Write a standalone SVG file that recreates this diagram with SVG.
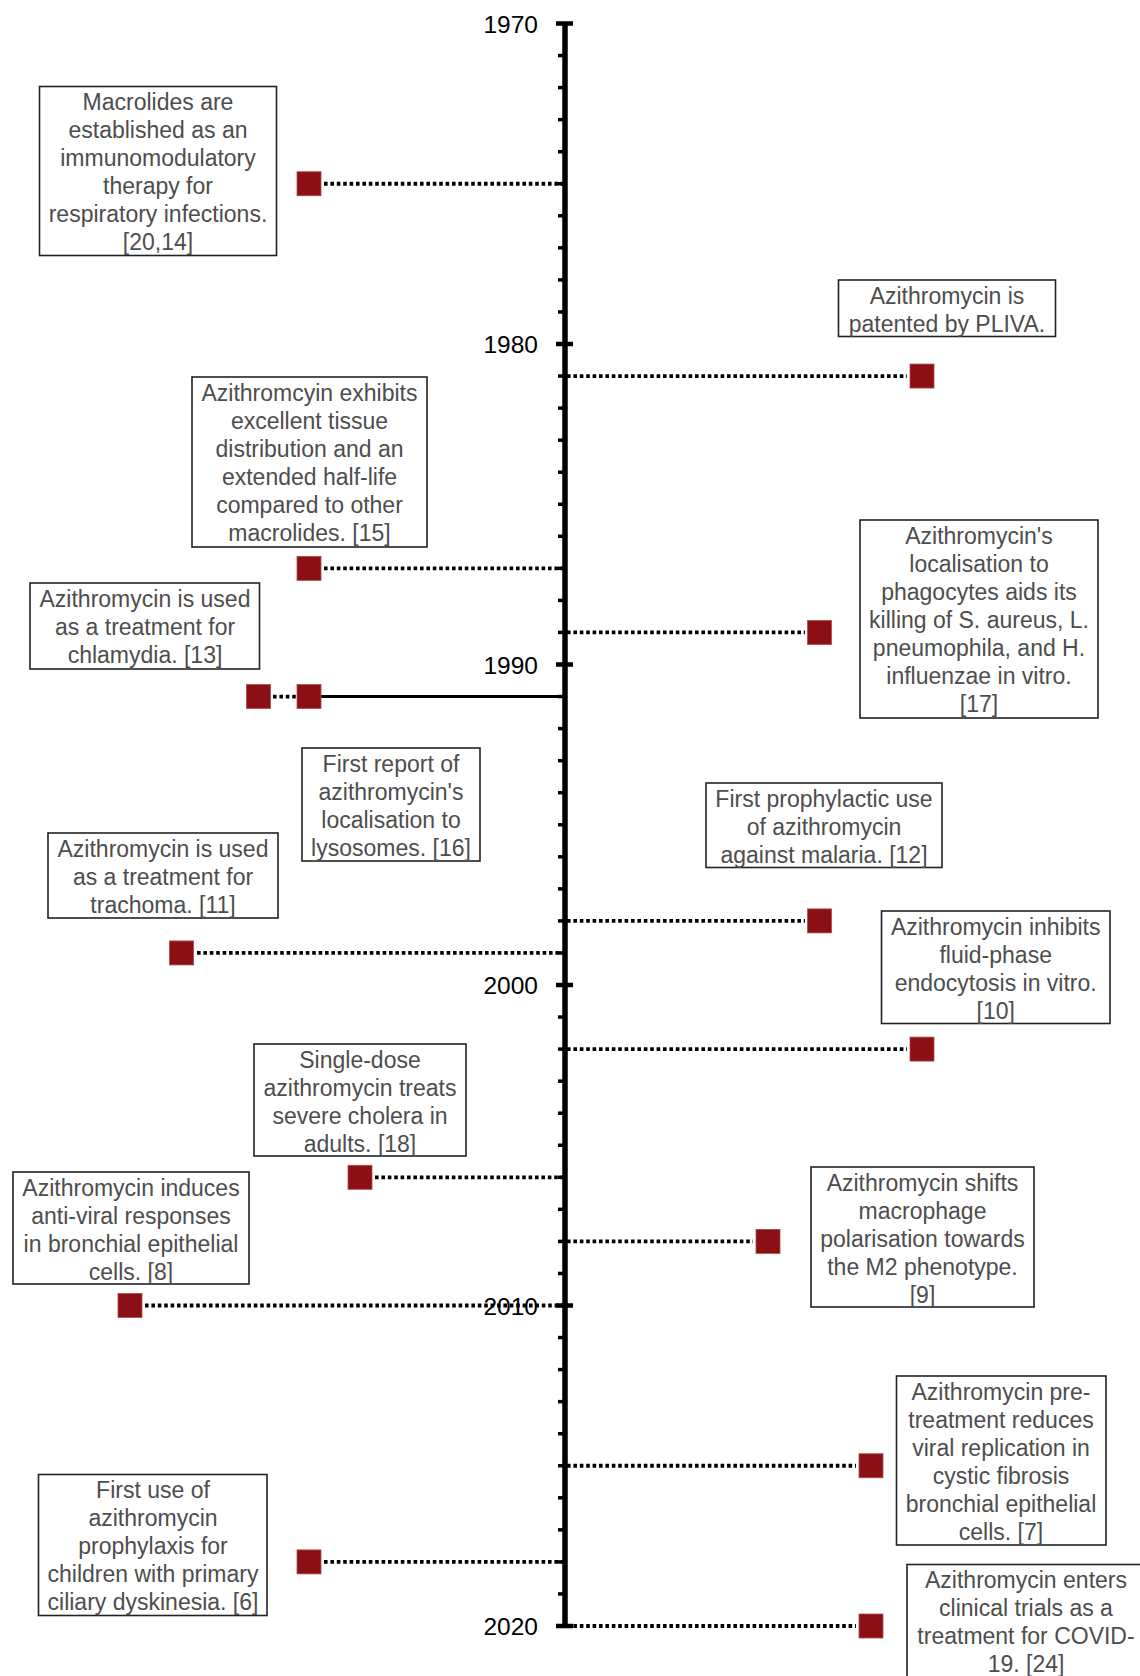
<svg xmlns="http://www.w3.org/2000/svg" width="1140" height="1676" viewBox="0 0 1140 1676">
<style>
.box{fill:#fff;stroke:#222;stroke-width:1.6}
.t{font-family:"Liberation Sans",Arial,Helvetica,sans-serif;font-size:23px;fill:#4d4d4d;text-anchor:middle}
.yr{font-family:"Liberation Sans",Arial,Helvetica,sans-serif;font-size:24.5px;fill:#000;text-anchor:end}
.dot{stroke:#000;stroke-width:3.8;stroke-dasharray:3.6 2.8;fill:none}
.solid{stroke:#000;stroke-width:3;fill:none}
.mk{fill:#8b1015;stroke:#b24a4a;stroke-width:0.8}
.minor{stroke:#000;stroke-width:3.5}
.major{stroke:#000;stroke-width:4.5}
</style>
<rect width="1140" height="1676" fill="#fff"/>
<g id="axis">
<line x1="565" y1="23.5" x2="565" y2="1626" stroke="#000" stroke-width="5.5"/>
<g id="minor-ticks">
<line class="minor" x1="558" y1="55.55" x2="565" y2="55.55"/><line class="minor" x1="558" y1="87.6" x2="565" y2="87.6"/><line class="minor" x1="558" y1="119.65" x2="565" y2="119.65"/><line class="minor" x1="558" y1="151.7" x2="565" y2="151.7"/><line class="minor" x1="558" y1="183.75" x2="565" y2="183.75"/><line class="minor" x1="558" y1="215.8" x2="565" y2="215.8"/><line class="minor" x1="558" y1="247.85" x2="565" y2="247.85"/><line class="minor" x1="558" y1="279.9" x2="565" y2="279.9"/><line class="minor" x1="558" y1="311.95" x2="565" y2="311.95"/>
<line class="minor" x1="558" y1="376.05" x2="565" y2="376.05"/><line class="minor" x1="558" y1="408.1" x2="565" y2="408.1"/><line class="minor" x1="558" y1="440.15" x2="565" y2="440.15"/><line class="minor" x1="558" y1="472.2" x2="565" y2="472.2"/><line class="minor" x1="558" y1="504.25" x2="565" y2="504.25"/><line class="minor" x1="558" y1="536.3" x2="565" y2="536.3"/><line class="minor" x1="558" y1="568.35" x2="565" y2="568.35"/><line class="minor" x1="558" y1="600.4" x2="565" y2="600.4"/><line class="minor" x1="558" y1="632.45" x2="565" y2="632.45"/>
<line class="minor" x1="558" y1="696.55" x2="565" y2="696.55"/><line class="minor" x1="558" y1="728.6" x2="565" y2="728.6"/><line class="minor" x1="558" y1="760.65" x2="565" y2="760.65"/><line class="minor" x1="558" y1="792.7" x2="565" y2="792.7"/><line class="minor" x1="558" y1="824.75" x2="565" y2="824.75"/><line class="minor" x1="558" y1="856.8" x2="565" y2="856.8"/><line class="minor" x1="558" y1="888.85" x2="565" y2="888.85"/><line class="minor" x1="558" y1="920.9" x2="565" y2="920.9"/><line class="minor" x1="558" y1="952.95" x2="565" y2="952.95"/>
<line class="minor" x1="558" y1="1017.05" x2="565" y2="1017.05"/><line class="minor" x1="558" y1="1049.1" x2="565" y2="1049.1"/><line class="minor" x1="558" y1="1081.15" x2="565" y2="1081.15"/><line class="minor" x1="558" y1="1113.2" x2="565" y2="1113.2"/><line class="minor" x1="558" y1="1145.25" x2="565" y2="1145.25"/><line class="minor" x1="558" y1="1177.3" x2="565" y2="1177.3"/><line class="minor" x1="558" y1="1209.35" x2="565" y2="1209.35"/><line class="minor" x1="558" y1="1241.4" x2="565" y2="1241.4"/><line class="minor" x1="558" y1="1273.45" x2="565" y2="1273.45"/>
<line class="minor" x1="558" y1="1337.55" x2="565" y2="1337.55"/><line class="minor" x1="558" y1="1369.6" x2="565" y2="1369.6"/><line class="minor" x1="558" y1="1401.65" x2="565" y2="1401.65"/><line class="minor" x1="558" y1="1433.7" x2="565" y2="1433.7"/><line class="minor" x1="558" y1="1465.75" x2="565" y2="1465.75"/><line class="minor" x1="558" y1="1497.8" x2="565" y2="1497.8"/><line class="minor" x1="558" y1="1529.85" x2="565" y2="1529.85"/><line class="minor" x1="558" y1="1561.9" x2="565" y2="1561.9"/><line class="minor" x1="558" y1="1593.95" x2="565" y2="1593.95"/>
</g>
<g id="major-ticks">
<line class="major" x1="556" y1="23.5" x2="573" y2="23.5"/>
<line class="major" x1="556" y1="344" x2="573" y2="344"/>
<line class="major" x1="556" y1="664.5" x2="573" y2="664.5"/>
<line class="major" x1="556" y1="985" x2="573" y2="985"/>
<line class="major" x1="556" y1="1305.5" x2="573" y2="1305.5"/>
<line class="major" x1="556" y1="1626" x2="573" y2="1626"/>
</g>
</g>
<g id="connectors">
<line class="dot" x1="324" y1="183.75" x2="563" y2="183.75"/>
<line class="dot" x1="567" y1="376.05" x2="907" y2="376.05"/>
<line class="dot" x1="324" y1="568.35" x2="563" y2="568.35"/>
<line class="dot" x1="567" y1="632.45" x2="805" y2="632.45"/>
<line class="solid" x1="321" y1="696.55" x2="563" y2="696.55"/>
<line class="dot" x1="273" y1="696.55" x2="296" y2="696.55"/>
<line class="dot" x1="567" y1="920.9" x2="805" y2="920.9"/>
<line class="dot" x1="197" y1="952.95" x2="563" y2="952.95"/>
<line class="dot" x1="567" y1="1049.1" x2="907" y2="1049.1"/>
<line class="dot" x1="375" y1="1177.3" x2="563" y2="1177.3"/>
<line class="dot" x1="567" y1="1241.4" x2="753" y2="1241.4"/>
<line class="dot" x1="145" y1="1305.5" x2="563" y2="1305.5"/>
<line class="dot" x1="567" y1="1465.75" x2="856" y2="1465.75"/>
<line class="dot" x1="324" y1="1561.9" x2="563" y2="1561.9"/>
<line class="dot" x1="567" y1="1626" x2="856" y2="1626"/>
</g>
<g id="year-labels">
<text class="yr" x="538" y="32.5">1970</text>
<text class="yr" x="538" y="353">1980</text>
<text class="yr" x="538" y="673.5">1990</text>
<text class="yr" x="538" y="994">2000</text>
<text class="yr" x="538" y="1314.5">2010</text>
<text class="yr" x="538" y="1635">2020</text>
</g>
<g id="markers">
<rect class="mk" x="297" y="171.75" width="24" height="24"/>
<rect class="mk" x="910" y="364.05" width="24" height="24"/>
<rect class="mk" x="297" y="556.35" width="24" height="24"/>
<rect class="mk" x="807.5" y="620.45" width="24" height="24"/>
<rect class="mk" x="246.5" y="684.55" width="24" height="24"/>
<rect class="mk" x="297" y="684.55" width="24" height="24"/>
<rect class="mk" x="807.5" y="908.9" width="24" height="24"/>
<rect class="mk" x="169.6" y="940.95" width="24" height="24"/>
<rect class="mk" x="910" y="1037.1" width="24" height="24"/>
<rect class="mk" x="348" y="1165.3" width="24" height="24"/>
<rect class="mk" x="756" y="1229.4" width="24" height="24"/>
<rect class="mk" x="118" y="1293.5" width="24" height="24"/>
<rect class="mk" x="859" y="1453.75" width="24" height="24"/>
<rect class="mk" x="297" y="1549.9" width="24" height="24"/>
<rect class="mk" x="859" y="1614" width="24" height="24"/>
</g>
<g id="e1975">
<rect class="box" x="39.5" y="86.5" width="237" height="169"/>
<text class="t" x="158" y="110"><tspan x="158">Macrolides are</tspan><tspan x="158" dy="28">established as an</tspan><tspan x="158" dy="28">immunomodulatory</tspan><tspan x="158" dy="28">therapy for</tspan><tspan x="158" dy="28">respiratory infections.</tspan><tspan x="158" dy="28">[20,14]</tspan></text>
</g>
<g id="e1981">
<rect class="box" x="838.5" y="280" width="217" height="56.5"/>
<text class="t" x="947" y="303.5"><tspan x="947">Azithromycin is</tspan><tspan x="947" dy="28">patented by PLIVA.</tspan></text>
</g>
<g id="e1987">
<rect class="box" x="192" y="377" width="235" height="170"/>
<text class="t" x="309.5" y="400.5"><tspan x="309.5">Azithromcyin exhibits</tspan><tspan x="309.5" dy="28">excellent tissue</tspan><tspan x="309.5" dy="28">distribution and an</tspan><tspan x="309.5" dy="28">extended half-life</tspan><tspan x="309.5" dy="28">compared to other</tspan><tspan x="309.5" dy="28">macrolides. [15]</tspan></text>
</g>
<g id="e1989">
<rect class="box" x="860" y="520" width="238" height="198"/>
<text class="t" x="979" y="543.5"><tspan x="979">Azithromycin's</tspan><tspan x="979" dy="28">localisation to</tspan><tspan x="979" dy="28">phagocytes aids its</tspan><tspan x="979" dy="28">killing of S. aureus, L.</tspan><tspan x="979" dy="28">pneumophila, and H.</tspan><tspan x="979" dy="28">influenzae in vitro.</tspan><tspan x="979" dy="28">[17]</tspan></text>
</g>
<g id="e1991-chlamydia">
<rect class="box" x="30" y="583" width="229.5" height="86"/>
<text class="t" x="145" y="606.5"><tspan x="145">Azithromycin is used</tspan><tspan x="145" dy="28">as a treatment for</tspan><tspan x="145" dy="28">chlamydia. [13]</tspan></text>
</g>
<g id="e-lysosomes">
<rect class="box" x="302" y="748" width="178" height="113"/>
<text class="t" x="391" y="771.5"><tspan x="391">First report of</tspan><tspan x="391" dy="28">azithromycin's</tspan><tspan x="391" dy="28">localisation to</tspan><tspan x="391" dy="28">lysosomes. [16]</tspan></text>
</g>
<g id="e1998">
<rect class="box" x="706" y="783" width="236" height="84.5"/>
<text class="t" x="824" y="806.5"><tspan x="824">First prophylactic use</tspan><tspan x="824" dy="28">of azithromycin</tspan><tspan x="824" dy="28">against malaria. [12]</tspan></text>
</g>
<g id="e1999">
<rect class="box" x="48" y="833" width="230" height="85"/>
<text class="t" x="163" y="856.5"><tspan x="163">Azithromycin is used</tspan><tspan x="163" dy="28">as a treatment for</tspan><tspan x="163" dy="28">trachoma. [11]</tspan></text>
</g>
<g id="e2002">
<rect class="box" x="881.5" y="911" width="228.5" height="112.5"/>
<text class="t" x="995.7" y="934.5"><tspan x="995.7">Azithromycin inhibits</tspan><tspan x="995.7" dy="28">fluid-phase</tspan><tspan x="995.7" dy="28">endocytosis in vitro.</tspan><tspan x="995.7" dy="28">[10]</tspan></text>
</g>
<g id="e2006">
<rect class="box" x="254" y="1044" width="212" height="112"/>
<text class="t" x="360" y="1067.5"><tspan x="360">Single-dose</tspan><tspan x="360" dy="28">azithromycin treats</tspan><tspan x="360" dy="28">severe cholera in</tspan><tspan x="360" dy="28">adults. [18]</tspan></text>
</g>
<g id="e2008">
<rect class="box" x="811" y="1167" width="223" height="140"/>
<text class="t" x="922.5" y="1190.5"><tspan x="922.5">Azithromycin shifts</tspan><tspan x="922.5" dy="28">macrophage</tspan><tspan x="922.5" dy="28">polarisation towards</tspan><tspan x="922.5" dy="28">the M2 phenotype.</tspan><tspan x="922.5" dy="28">[9]</tspan></text>
</g>
<g id="e2010">
<rect class="box" x="13" y="1172" width="236" height="112"/>
<text class="t" x="131" y="1195.5"><tspan x="131">Azithromycin induces</tspan><tspan x="131" dy="28">anti-viral responses</tspan><tspan x="131" dy="28">in bronchial epithelial</tspan><tspan x="131" dy="28">cells. [8]</tspan></text>
</g>
<g id="e2015">
<rect class="box" x="896.5" y="1376" width="209.5" height="169"/>
<text class="t" x="1001" y="1399.5"><tspan x="1001">Azithromycin pre-</tspan><tspan x="1001" dy="28">treatment reduces</tspan><tspan x="1001" dy="28">viral replication in</tspan><tspan x="1001" dy="28">cystic fibrosis</tspan><tspan x="1001" dy="28">bronchial epithelial</tspan><tspan x="1001" dy="28">cells. [7]</tspan></text>
</g>
<g id="e2018">
<rect class="box" x="38.5" y="1474.5" width="228.5" height="141"/>
<text class="t" x="153" y="1498"><tspan x="153">First use of</tspan><tspan x="153" dy="28">azithromycin</tspan><tspan x="153" dy="28">prophylaxis for</tspan><tspan x="153" dy="28">children with primary</tspan><tspan x="153" dy="28">ciliary dyskinesia. [6]</tspan></text>
</g>
<g id="e2020">
<rect class="box" x="907" y="1564.5" width="238" height="130"/>
<text class="t" x="1026" y="1588"><tspan x="1026">Azithromycin enters</tspan><tspan x="1026" dy="28">clinical trials as a</tspan><tspan x="1026" dy="28">treatment for COVID-</tspan><tspan x="1026" dy="28">19. [24]</tspan></text>
</g>
</svg>
